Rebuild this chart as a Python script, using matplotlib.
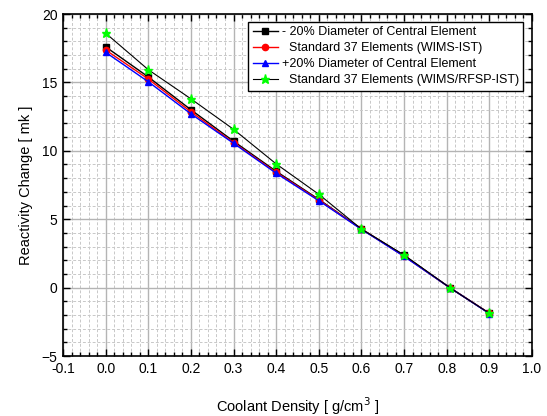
import matplotlib
matplotlib.use("Agg")
import matplotlib.pyplot as plt
from matplotlib.ticker import MultipleLocator

plt.rcParams['font.family'] = ['Liberation Sans', 'DejaVu Sans']

density = [0.0, 0.1, 0.2, 0.3, 0.4, 0.5, 0.6, 0.7, 0.807, 0.9]
minus20 = [17.6, 15.4, 13.0, 10.7, 8.5, 6.45, 4.28, 2.35, 0.0, -1.88]
standard = [17.37, 15.25, 12.85, 10.6, 8.42, 6.4, 4.28, 2.3, 0.0, -1.88]
plus20 = [17.2, 15.05, 12.7, 10.55, 8.36, 6.35, 4.26, 2.28, 0.0, -1.9]
rfsp = [18.6, 15.93, 13.8, 11.57, 9.04, 6.82, 4.28, 2.38, 0.0, -1.88]

xtick_vals = [-0.1, 0.0, 0.1, 0.2, 0.3, 0.4, 0.5, 0.6, 0.7, 0.8, 0.9, 1.0]
xtick_labels = ["-0.1", "0.0", "0.1", "0.2", "0.3", "0.4", "0.5", "0.6", "0.7", "0.8", "0.9", "1.0"]

labels = ["- 20% Diameter of Central Element",
          "  Standard 37 Elements (WIMS-IST)",
          "+20% Diameter of Central Element",
          "  Standard 37 Elements (WIMS/RFSP-IST)"]

fig = plt.figure(figsize=(5.47, 4.16), dpi=100)
ax = fig.add_axes([63/547, 60/416, 469/547, 342/416])

ax.plot(density, minus20, color='black', lw=1.0, marker='s', ms=4.5, mfc='black', mec='black', label=labels[0])
ax.plot(density, standard, color='red', lw=1.0, marker='o', ms=4.5, mfc='red', mec='red', label=labels[1])
ax.plot(density, plus20, color='blue', lw=1.0, marker='^', ms=5, mfc='blue', mec='blue', label=labels[2])
ax.plot(density, rfsp, color='black', lw=0.8, marker='*', ms=6.5, mfc='#00ff00', mec='#00ff00', label=labels[3])

ax.set_xlim(-0.1, 1.0)
ax.set_ylim(-5, 20)
ax.xaxis.set_minor_locator(MultipleLocator(0.02))
ax.yaxis.set_major_locator(MultipleLocator(5))
ax.yaxis.set_minor_locator(MultipleLocator(1))
ax.set_xticks(xtick_vals)
ax.set_xticklabels(xtick_labels)

ax.grid(which='major', color='#b4b4b4', lw=1.0, ls='-')
ax.grid(which='minor', color='#c8c8c8', lw=0.7, ls=(0, (3, 2)))
ax.set_axisbelow(True)

ax.tick_params(which='both', direction='in', top=True, right=True, labelsize=10, width=1.0)
ax.tick_params(which='major', length=5, pad=4)
ax.tick_params(which='minor', length=3)
for s in ax.spines.values():
    s.set_linewidth(1.2)

ax.set_xlabel("Coolant Density [ g/cm$^3$ ]", fontsize=10.5, labelpad=14)
ax.set_ylabel("Reactivity Change [ mk ]", fontsize=10.5, labelpad=6)

leg = ax.legend(loc='upper right', fontsize=9, frameon=True, fancybox=False, edgecolor='black',
                framealpha=1, handlelength=2.0, handletextpad=0.3, borderpad=0.35,
                labelspacing=0.32, borderaxespad=0)
leg.set_bbox_to_anchor((523/547, 1 - 22/416), transform=fig.transFigure)
leg.get_frame().set_linewidth(1.0)

fig.savefig("out.png", dpi=100)
